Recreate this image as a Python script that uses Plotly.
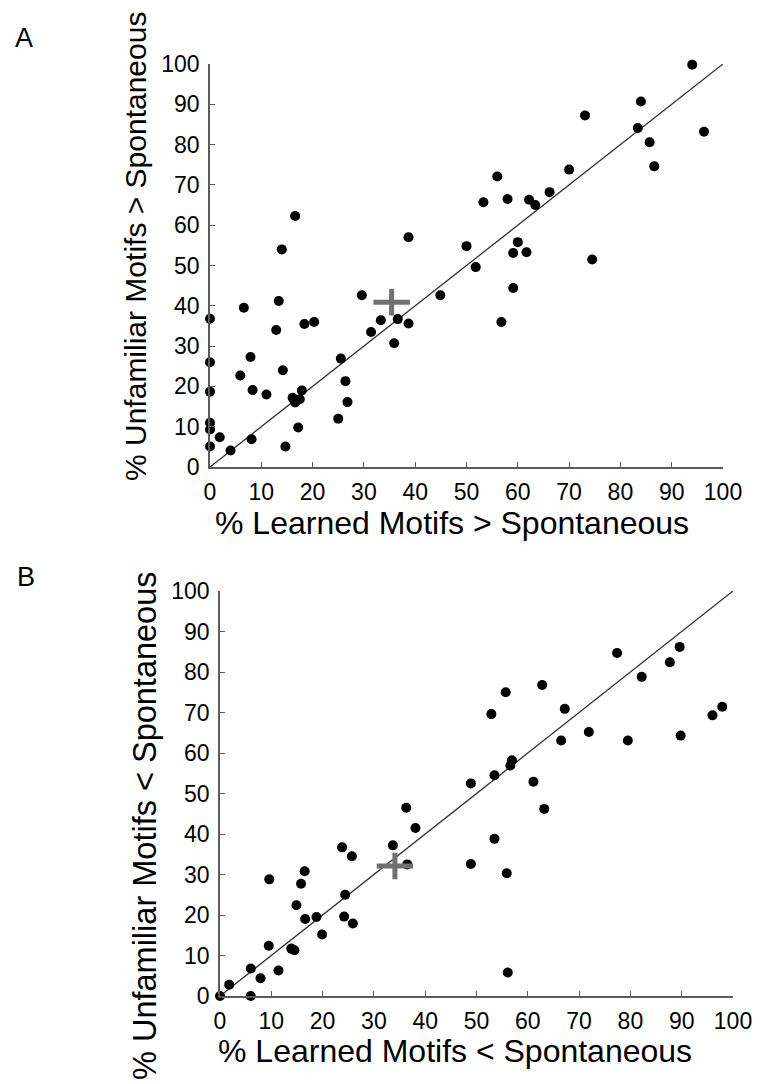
import plotly.graph_objects as go

# Panel A: percent of motifs with responses greater than spontaneous
learned_gt = [16.6, 14.0, 38.7, 13.4, 6.6, 29.6, 44.9, 0, 18.4, 20.3, 33.3, 36.6, 38.7,
              12.9, 31.4, 35.9, 0, 7.9, 25.5, 14.2, 5.9, 26.4, 0, 8.3, 11.0, 17.9, 16.1,
              17.5, 16.6, 26.8, 25.0, 17.2, 0, 0, 1.9, 8.1, 0, 14.7, 4.0,
              94.0, 84.0, 73.1, 83.4, 96.3, 85.7, 86.6, 70.0, 56.0, 66.2, 53.3, 58.0,
              62.2, 63.4, 50.0, 51.8, 60.0, 59.1, 61.7, 74.5, 59.1, 56.8]
unfamiliar_gt = [62.3, 54.0, 57.0, 41.2, 39.5, 42.6, 42.6, 36.8, 35.5, 36.0, 36.4, 36.7, 35.6,
                 34.0, 33.5, 30.7, 26.0, 27.3, 26.9, 24.0, 22.7, 21.3, 18.7, 19.1, 18.0, 19.0,
                 17.2, 16.8, 16.0, 16.1, 12.0, 9.8, 11.0, 9.3, 7.4, 6.9, 5.1, 5.1, 4.1,
                 99.8, 90.7, 87.2, 84.1, 83.2, 80.6, 74.6, 73.8, 72.1, 68.2, 65.7, 66.5,
                 66.3, 65.0, 54.8, 49.6, 55.8, 53.1, 53.3, 51.5, 44.4, 36.0]
mean_gt = (35.4, 40.9)

# Panel B: percent of motifs with responses less than spontaneous
learned_lt = [48.9, 36.3, 38.1, 33.7, 23.8, 25.7, 36.5, 48.9, 16.5, 15.8, 9.6, 24.4, 14.9,
              16.6, 18.8, 24.2, 25.9, 19.9, 9.5, 13.9, 14.5, 6.0, 11.4, 7.9, 1.8, 0, 6.0,
              89.6, 77.4, 87.7, 82.2, 55.7, 62.8, 52.9, 67.2, 97.9, 96.0, 71.9, 66.5,
              79.5, 89.8, 56.9, 56.6, 53.5, 61.1, 63.2, 53.5, 55.9, 56.1]
unfamiliar_lt = [52.5, 46.5, 41.5, 37.2, 36.7, 34.5, 32.5, 32.6, 30.8, 27.7, 28.8, 25.0, 22.4,
                 19.0, 19.5, 19.6, 17.9, 15.2, 12.4, 11.7, 11.3, 6.8, 6.3, 4.4, 2.8, 0, 0,
                 86.2, 84.7, 82.4, 78.8, 75.0, 76.8, 69.6, 70.9, 71.4, 69.3, 65.2, 63.1,
                 63.1, 64.3, 58.2, 56.9, 54.5, 52.9, 46.2, 38.8, 30.3, 5.8]
mean_lt = (34.1, 32.1)

unity = [0, 100]
tick_vals = list(range(0, 101, 10))

W, H = 763, 1084
FONT = "Liberation Sans, Arial, Helvetica, sans-serif"
AXIS_COLOR = "#5a5a5a"
CROSS_COLOR = "#707070"


def px_x(p):
    return p / W


def px_y(p):
    return 1 - p / H


fig = go.Figure()

panels = [
    ("x", "y", learned_gt, unfamiliar_gt, mean_gt),
    ("x2", "y2", learned_lt, unfamiliar_lt, mean_lt),
]

for xa, ya, xs, ys, mean in panels:
    fig.add_trace(go.Scatter(x=unity, y=unity, mode="lines", xaxis=xa, yaxis=ya,
                             line=dict(color="#333333", width=1.3),
                             showlegend=False, hoverinfo="skip"))
    fig.add_trace(go.Scatter(x=xs, y=ys, mode="markers", xaxis=xa, yaxis=ya,
                             marker=dict(color="black", size=10, line=dict(width=0)),
                             cliponaxis=False, showlegend=False))
    # mean marker: wide horizontal bar plus shorter vertical bar
    fig.add_trace(go.Scatter(x=[mean[0]], y=[mean[1]], mode="markers", xaxis=xa, yaxis=ya,
                             marker=dict(symbol="line-ew", size=26,
                                         line=dict(color=CROSS_COLOR, width=5)),
                             cliponaxis=False, showlegend=False))
    fig.add_trace(go.Scatter(x=[mean[0]], y=[mean[1]], mode="markers", xaxis=xa, yaxis=ya,
                             marker=dict(symbol="line-ns", size=19,
                                         line=dict(color=CROSS_COLOR, width=5)),
                             cliponaxis=False, showlegend=False))

axis_common = dict(
    range=[0, 100], tickvals=tick_vals, ticks="inside", ticklen=5, tickwidth=1.3,
    tickcolor=AXIS_COLOR, showline=True, linecolor=AXIS_COLOR, linewidth=1.5,
    showgrid=False, zeroline=False, tickfont=dict(family=FONT, size=23, color="black"),
    ticklabelstandoff=4, fixedrange=True, automargin=False,
)

fig.update_layout(
    template="none",
    width=W, height=H,
    margin=dict(l=0, r=0, t=0, b=0, pad=0),
    paper_bgcolor="white", plot_bgcolor="white",
    font=dict(family=FONT, color="black"),
    showlegend=False,
    xaxis=dict(domain=[px_x(210), px_x(723)], anchor="y", **axis_common),
    yaxis=dict(domain=[px_y(467), px_y(64)], anchor="x", **axis_common),
    xaxis2=dict(domain=[px_x(220), px_x(733)], anchor="y2", **axis_common),
    yaxis2=dict(domain=[px_y(996), px_y(591)], anchor="x2", **axis_common),
)


def tfont(size):
    return dict(family=FONT, size=size, color="black")


annotations = [
    dict(text="A", x=px_x(13), y=px_y(38), xanchor="left", yanchor="middle",
         font=tfont(27)),
    dict(text="B", x=px_x(15), y=px_y(577), xanchor="left", yanchor="middle",
         font=tfont(27)),
    dict(text="% Learned Motifs > Spontaneous", x=px_x(452), y=px_y(523),
         xanchor="center", yanchor="middle", font=tfont(32)),
    dict(text="% Unfamiliar Motifs > Spontaneous", x=px_x(136), y=px_y(247),
         xanchor="center", yanchor="middle", textangle=-90, font=tfont(30)),
    dict(text="% Learned Motifs < Spontaneous", x=px_x(455), y=px_y(1051),
         xanchor="center", yanchor="middle", font=tfont(32)),
    dict(text="% Unfamiliar Motifs < Spontaneous", x=px_x(145), y=px_y(826),
         xanchor="center", yanchor="middle", textangle=-90, font=tfont(32.5)),
]
for a in annotations:
    a.update(xref="paper", yref="paper", showarrow=False)
fig.update_layout(annotations=annotations)

# page body without the default margin so the figure fills the window exactly
fig.write_html("out.html", post_script="document.body.style.margin='0';")
